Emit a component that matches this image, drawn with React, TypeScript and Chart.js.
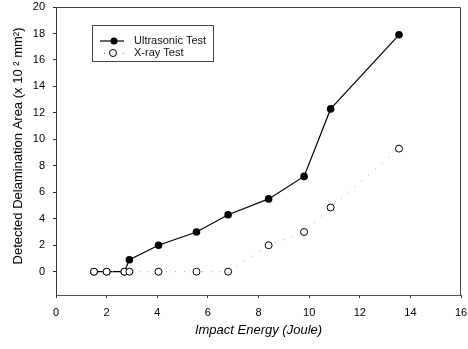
import React, { useEffect, useRef } from "react";
import { Chart, registerables } from "chart.js";

Chart.register(...registerables);

// Impact energy (J) and detected delamination area (x 10^2 mm^2)
const ultrasonicEnergy = [1.5, 2.0, 2.7, 2.9, 4.05, 5.55, 6.8, 8.4, 9.8, 10.85, 13.55];
const ultrasonicArea = [0, 0, 0, 0.9, 2.0, 3.0, 4.3, 5.5, 7.2, 12.3, 17.9];

const xrayEnergy = [1.5, 2.0, 2.7, 2.9, 4.05, 5.55, 6.8, 8.4, 9.8, 10.85, 13.55];
const xrayArea = [0, 0, 0, 0, 0, 0, 0, 2.0, 3.0, 4.85, 9.3];

const xTickValues = [0, 2, 4, 6, 8, 10, 12, 14, 16];
const yTickValues = [0, 2, 4, 6, 8, 10, 12, 14, 16, 18, 20];

const seriesLabels = ["Ultrasonic Test", "X-ray Test"];
const xTitle = "Impact Energy (Joule)";
const yTitle = "Detected Delamination Area (x 10 \u00B2 mm\u00B2)";

const FONT = "'Liberation Sans', Arial, Helvetica, sans-serif";
const INK = "#000";

const toPoints = (xs: number[], ys: number[]) => xs.map((x, i) => ({ x, y: ys[i] }));

// Box around the plotting area (top and right edges)
const framePlugin = {
  id: "frame",
  afterDatasetsDraw(chart: any) {
    const { ctx, chartArea } = chart;
    const { left, right, top, bottom } = chartArea;
    ctx.save();
    ctx.strokeStyle = "#444";
    ctx.lineWidth = 1;
    ctx.beginPath();
    ctx.moveTo(Math.round(left) + 0.5, Math.round(top) + 0.5);
    ctx.lineTo(Math.round(right) - 0.5, Math.round(top) + 0.5);
    ctx.lineTo(Math.round(right) - 0.5, Math.round(bottom) + 0.5);
    ctx.stroke();
    ctx.restore();
  },
};

// Vertical axis caption, placed a little above the plot centre
const yTitlePlugin = {
  id: "yCaption",
  afterDraw(chart: any) {
    const { ctx } = chart;
    ctx.save();
    ctx.translate(18, 146);
    ctx.rotate(-Math.PI / 2);
    ctx.fillStyle = INK;
    ctx.font = `13px ${FONT}`;
    ctx.textAlign = "center";
    ctx.textBaseline = "middle";
    ctx.fillText(yTitle, 0, 0);
    ctx.restore();
  },
};

// Boxed key inside the upper-left part of the plot
const keyPlugin = {
  id: "keyBox",
  afterDraw(chart: any) {
    const { ctx, chartArea } = chart;
    const x0 = chartArea.left + 36;
    const y0 = chartArea.top + 18;
    const w = 121;
    const h = 36;
    ctx.save();
    ctx.fillStyle = "#fff";
    ctx.fillRect(x0, y0, w, h);
    ctx.strokeStyle = "#444";
    ctx.lineWidth = 1;
    ctx.strokeRect(x0 + 0.5, y0 + 0.5, w, h);

    const rows = [y0 + 16, y0 + 28];
    const markerX = x0 + 22;
    // filled series
    ctx.strokeStyle = "#000";
    ctx.lineWidth = 1.2;
    ctx.beginPath();
    ctx.moveTo(x0 + 8, rows[0]);
    ctx.lineTo(x0 + 32, rows[0]);
    ctx.stroke();
    ctx.fillStyle = "#000";
    ctx.beginPath();
    ctx.arc(markerX, rows[0], 3.5, 0, Math.PI * 2);
    ctx.fill();
    // open series
    ctx.fillStyle = "#888";
    ctx.fillRect(x0 + 12, rows[1], 1, 1);
    ctx.fillRect(x0 + 31, rows[1], 1, 1);
    ctx.fillStyle = "#fff";
    ctx.strokeStyle = "#000";
    ctx.lineWidth = 1;
    ctx.beginPath();
    ctx.arc(markerX - 1, rows[1], 3.5, 0, Math.PI * 2);
    ctx.fill();
    ctx.stroke();

    ctx.fillStyle = "#111";
    ctx.font = `11px ${FONT}`;
    ctx.textBaseline = "middle";
    ctx.textAlign = "left";
    ctx.fillText(seriesLabels[0], x0 + 42, rows[0]);
    ctx.fillText(seriesLabels[1], x0 + 42, rows[1]);
    ctx.restore();
  },
};

export default function App() {
  const canvasRef = useRef<HTMLCanvasElement | null>(null);

  useEffect(() => {
    const canvas = canvasRef.current;
    if (!canvas) return;
    const chart = new Chart(canvas, {
      type: "scatter",
      data: {
        datasets: [
          {
            label: seriesLabels[1],
            data: toPoints(xrayEnergy, xrayArea),
            showLine: true,
            borderColor: "#999",
            borderWidth: 1,
            borderDash: [1, 8],
            pointRadius: 3.5,
            pointBackgroundColor: "#fff",
            pointBorderColor: "#000",
            pointBorderWidth: 1,
            order: 0,
          },
          {
            label: seriesLabels[0],
            data: toPoints(ultrasonicEnergy, ultrasonicArea),
            showLine: true,
            borderColor: "#000",
            borderWidth: 1.2,
            pointRadius: 3.8,
            pointBackgroundColor: "#000",
            pointBorderColor: "#000",
            pointBorderWidth: 0,
            order: 1,
          },
        ],
      },
      options: {
        responsive: false,
        animation: false,
        events: [],
        layout: { padding: { top: 7, right: 7, left: 0, bottom: 0 } },
        plugins: {
          legend: { display: false },
          tooltip: { enabled: false },
        },
        scales: {
          x: {
            type: "linear",
            min: 0,
            max: 16,
            afterBuildTicks: (scale: any) => {
              scale.ticks = xTickValues.map((v) => ({ value: v }));
            },
            afterFit: (scale: any) => {
              scale.height = 54;
              scale.paddingLeft = 0;
              scale.paddingRight = 0;
            },
            ticks: {
              color: INK,
              font: { family: FONT, size: 11 },
              padding: 8,
              maxRotation: 0,
              autoSkip: false,
            },
            grid: {
              display: true,
              drawOnChartArea: false,
              drawTicks: true,
              tickLength: 3,
              color: "#333",
            },
            border: { display: true, color: "#555", width: 1 },
            title: {
              display: true,
              text: xTitle,
              color: INK,
              font: { family: FONT, size: 13, style: "italic" },
              padding: { top: 0, bottom: 11 },
            },
          },
          y: {
            type: "linear",
            min: -1.76,
            max: 20,
            afterBuildTicks: (scale: any) => {
              scale.ticks = yTickValues.map((v) => ({ value: v }));
            },
            afterFit: (scale: any) => {
              scale.width = 56;
              scale.paddingTop = 0;
              scale.paddingBottom = 0;
            },
            ticks: {
              color: INK,
              font: { family: FONT, size: 11 },
              padding: 8,
              autoSkip: false,
            },
            grid: {
              display: true,
              drawOnChartArea: false,
              drawTicks: true,
              tickLength: 3,
              color: "#333",
            },
            border: { display: true, color: "#333", width: 1 },
            title: { display: false },
          },
        },
      },
      plugins: [framePlugin, keyPlugin, yTitlePlugin],
    });
    return () => chart.destroy();
  }, []);

  return (
    <div style={{ position: "fixed", left: 0, top: 0, width: 468, height: 349, background: "#fff" }}>
      <canvas ref={canvasRef} width={468} height={349} style={{ display: "block" }} />
    </div>
  );
}
